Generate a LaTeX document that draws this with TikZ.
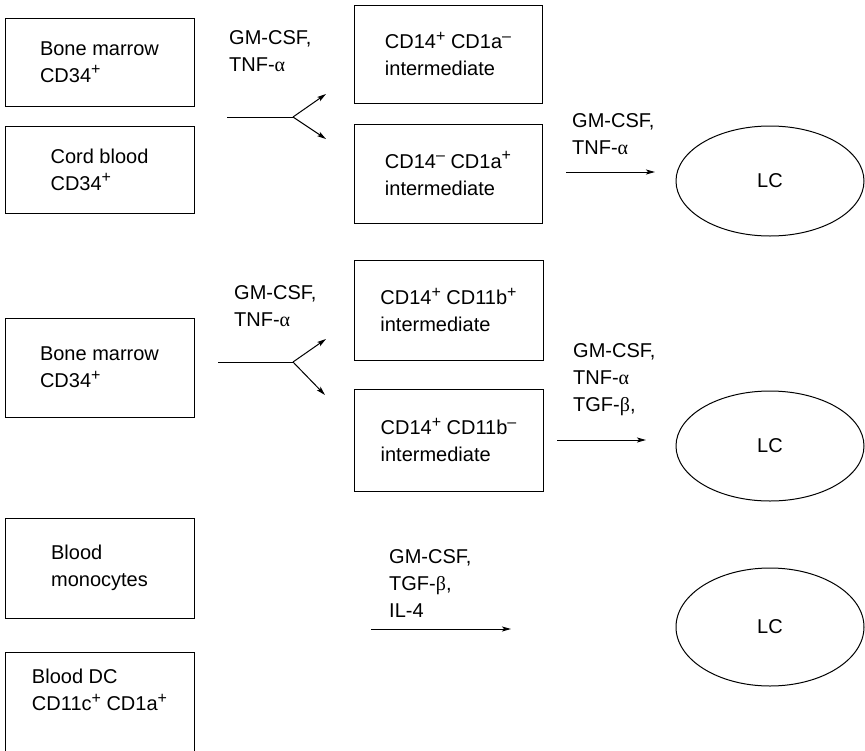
\documentclass[tikz,border=0pt]{standalone}
\usepackage{fontspec}
\setmainfont{Liberation Sans}
\newfontfamily\greekfont{Liberation Serif}
\newcommand{\galpha}{{\greekfont α}}
\newcommand{\gbeta}{{\greekfont β}}
\newcommand{\hi}[1]{\raisebox{0.38em}{\fontsize{16}{16}\selectfont #1}}
\usetikzlibrary{arrows.meta,shapes.geometric}

\begin{document}
\begin{tikzpicture}[x=1pt, y=-1pt,
  font=\fontsize{20}{27}\selectfont,
  cell/.style={draw, line width=1pt, align=left, inner sep=0pt, minimum width=189pt},
  lc/.style={draw, ellipse, line width=1pt, minimum width=188pt, minimum height=110pt, inner sep=0pt},
  factors/.style={align=left, anchor=north west, inner sep=0pt},
  flow/.style={-{Stealth[length=9pt, width=5pt, inset=2pt]}, line width=1pt}]
  \useasboundingbox (0,0) rectangle (865,750);

  % CD34+ precursors, GM-CSF + TNF-alpha
  \node[cell, minimum height=88pt] (bm1) at (99.5,62) {Bone marrow\\CD34\hi{+}};
  \node[cell, minimum height=87pt] (cb) at (99.5,169.5) {Cord blood\\CD34\hi{+}};
  \node[cell, minimum width=188pt, minimum height=98pt] (cd1aneg) at (448,54)
    {CD14\hi{+} CD1a\hi{--}\\intermediate};
  \node[cell, minimum width=188pt, minimum height=99pt] (cd1apos) at (448,173.5)
    {CD14\hi{--} CD1a\hi{+}\\intermediate};
  \node[lc] (lc1) at (770,181) {LC};
  \node[factors] (f1) at (229,30.5) {GM-CSF,\\TNF-\galpha};
  \node[factors] (f2) at (572,113.5) {GM-CSF,\\TNF-\galpha};
  \coordinate (s1) at (227,117);
  \coordinate (j1) at (293,117);
  \coordinate (u1) at (326,94);
  \coordinate (d1) at (326,139);
  \coordinate (a1s) at (566,172);
  \coordinate (a1e) at (655,172);
  \draw[line width=1pt] (s1) -- (j1);
  \draw[flow] (j1) -- (u1);
  \draw[flow] (j1) -- (d1);
  \draw[flow] (a1s) -- (a1e);

  % bone marrow, CD11b split
  \node[cell, minimum height=99pt] (bm2) at (99.5,367.5) {Bone marrow\\CD34\hi{+}};
  \node[cell, minimum height=100pt] (cd11bpos) at (448.5,310)
    {CD14\hi{+} CD11b\hi{+}\\intermediate};
  \node[cell, minimum height=102pt] (cd11bneg) at (448.5,440)
    {CD14\hi{+} CD11b\hi{--}\\intermediate};
  \node[lc] (lc2) at (770,446) {LC};
  \node[factors] (f3) at (234,285.5) {GM-CSF,\\TNF-\galpha};
  \node[factors] (f4) at (573,343.5) {GM-CSF,\\TNF-\galpha\\TGF-\gbeta,};
  \coordinate (s2) at (218,362);
  \coordinate (j2) at (293,362);
  \coordinate (u2) at (326,339);
  \coordinate (d2) at (325,395);
  \coordinate (a2s) at (557,440);
  \coordinate (a2e) at (646,440);
  \draw[line width=1pt] (s2) -- (j2);
  \draw[flow] (j2) -- (u2);
  \draw[flow] (j2) -- (d2);
  \draw[flow] (a2s) -- (a2e);

  % blood cells
  \node[cell, minimum height=100pt] (mono) at (99.5,568) {Blood\\monocytes};
  \node[cell, minimum height=100pt, text depth=24pt] (bdc) at (99.5,702)
    {Blood DC\\CD11c\hi{+} CD1a\hi{+}};
  \node[lc, minimum height=118pt] (lc3) at (770,627) {LC};
  \node[factors] (f5) at (389,549.5) {GM-CSF,\\TGF-\gbeta,\\IL-4};
  \coordinate (a3s) at (371,629);
  \coordinate (a3e) at (511,629);
  \draw[flow] (a3s) -- (a3e);
\end{tikzpicture}
\end{document}
